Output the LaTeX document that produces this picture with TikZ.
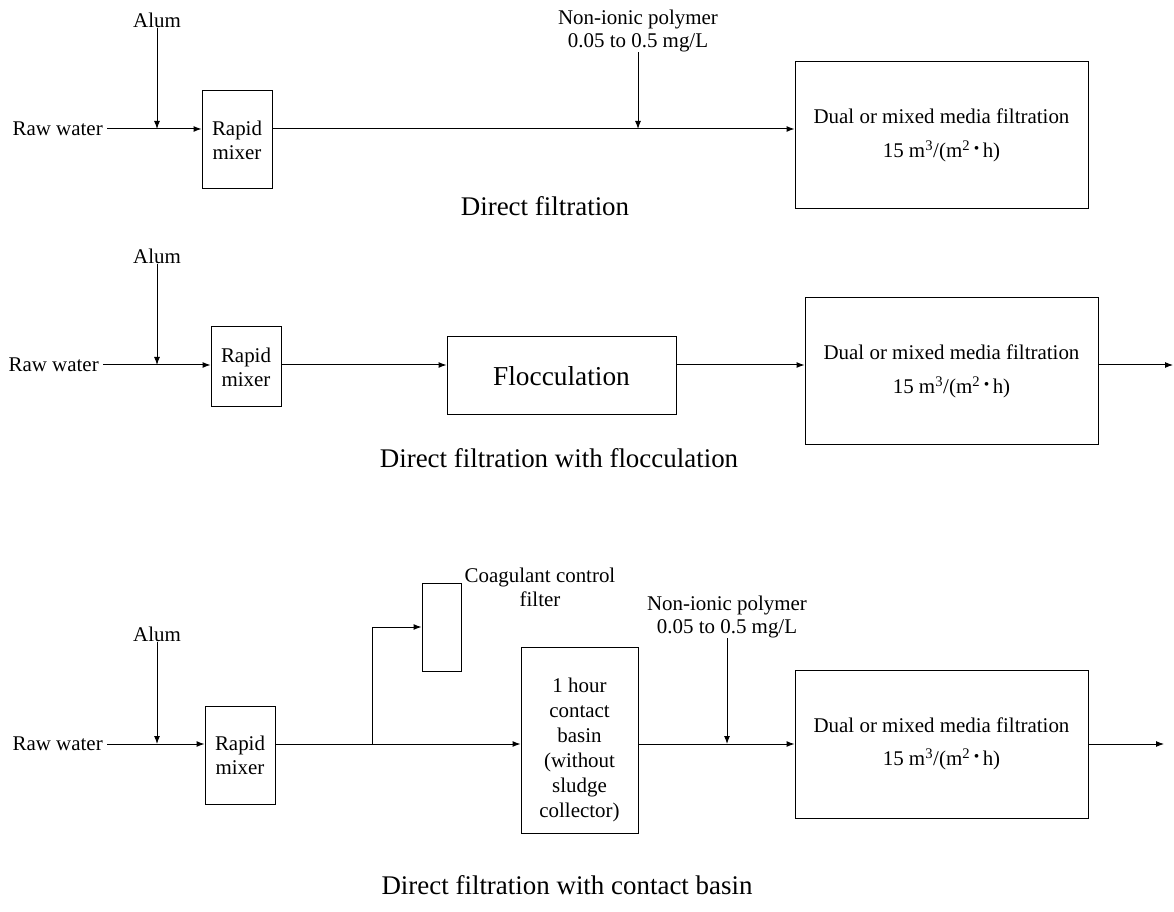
\documentclass[tikz,border=0pt]{standalone}
\usepackage{fontspec}
\setmainfont{Liberation Serif}
\usepackage{graphicx}
\usetikzlibrary{arrows.meta}
\newcommand{\mdot}{\,\raisebox{0.4ex}{\scalebox{0.75}{•}}\,}
\newcommand{\rate}{15 m\textsuperscript{3}/(m\textsuperscript{2}\mdot h)}
\begin{document}
\begin{tikzpicture}[x=0.75pt,y=-0.75pt,
  lbl/.style={font=\fontsize{15.7}{18}\selectfont, inner sep=0pt, align=center},
  rawlbl/.style={lbl, anchor=east, inner xsep=3pt},
  ttl/.style={font=\fontsize{20.2}{24}\selectfont, inner sep=0pt},
  box/.style={draw, line width=0.75pt, align=center, inner sep=0pt},
  rmbox/.style={box, font=\fontsize{15.7}{18}\selectfont, minimum width=52.5pt},
  dfbox/.style={box, font=\fontsize{15.7}{25}\selectfont, minimum width=219.75pt, minimum height=110.25pt},
  flow/.style={line width=0.75pt, -{Latex[length=6pt,width=4.5pt]}},
  line/.style={line width=0.75pt}]
\useasboundingbox (0,0) rectangle (1174,912);

% ---------- Panel 1 ----------
\node[lbl] (alum1) at (157,20) {Alum};
\node[rawlbl] (raw1) at (107,129) {Raw water};
\node[rmbox, minimum height=73.5pt] (rm1) at (237,140) {Rapid\\mixer};
\node[lbl, font=\fontsize{15.7}{17}\selectfont] (poly1) at (638,31) {Non-ionic polymer\\0.05 to 0.5 mg/L};
\node[dfbox] (df1) at (941.5,135.5) {Dual or mixed media filtration\\\rate};
\node[ttl] (t1) at (545,206) {Direct filtration};
\draw[flow] (raw1.east) -- (rm1.west |- raw1.east);
\draw[flow] (alum1.south) -- (alum1.south |- raw1.east);
\draw[flow] (rm1.east |- raw1.east) -- (df1.west |- raw1.east);
\draw[flow] (poly1.south) -- (poly1.south |- raw1.east);

% ---------- Panel 2 ----------
\node[lbl] (alum2) at (157,256) {Alum};
\node[rawlbl] (raw2) at (103,365) {Raw water};
\node[rmbox, minimum height=60pt] (rm2) at (246,367) {Rapid\\mixer};
\node[box, font=\fontsize{20.5}{24}\selectfont, minimum width=171.75pt, minimum height=58.5pt] (fl) at (561.5,376) {Flocculation};
\node[dfbox] (df2) at (951.5,371.5) {Dual or mixed media filtration\\\rate};
\coordinate (out2) at (1173,365);
\node[ttl] (t2) at (559,458) {Direct filtration with flocculation};
\draw[flow] (raw2.east) -- (rm2.west |- raw2.east);
\draw[flow] (alum2.south) -- (alum2.south |- raw2.east);
\draw[flow] (rm2.east |- raw2.east) -- (fl.west |- raw2.east);
\draw[flow] (fl.east |- raw2.east) -- (df2.west |- raw2.east);
\draw[flow] (df2.east |- raw2.east) -- (out2);

% ---------- Panel 3 ----------
\node[lbl] (alum3) at (157,634) {Alum};
\node[rawlbl] (raw3) at (107,744) {Raw water};
\node[rmbox, minimum height=73.5pt] (rm3) at (240,755) {Rapid\\mixer};
\node[box, minimum width=29.25pt, minimum height=66pt] (cf) at (441.5,627) {};
\node[lbl] (cflbl) at (540,587) {Coagulant control\\filter};
\node[box, minimum width=87.75pt, minimum height=139.5pt] (cb) at (579.5,740) {};
\node[lbl, font=\fontsize{15.7}{18.75}\selectfont] (cbtxt) at (579.5,750) {1 hour\\contact\\basin\\(without\\sludge\\collector)};
\node[lbl, font=\fontsize{15.7}{17}\selectfont] (poly3) at (727,617) {Non-ionic polymer\\0.05 to 0.5 mg/L};
\node[dfbox, minimum height=111pt] (df3) at (941.5,744) {Dual or mixed media filtration\\\rate};
\coordinate (br) at (372,744);
\coordinate (out3) at (1164,744);
\node[ttl] (t3) at (567,885) {Direct filtration with contact basin};
\draw[flow] (raw3.east) -- (rm3.west |- raw3.east);
\draw[flow] (alum3.south) -- (alum3.south |- raw3.east);
\draw[flow] (rm3.east |- raw3.east) -- (cb.west |- raw3.east);
\draw[flow] (br) |- (cf.west);
\draw[flow] (cb.east |- raw3.east) -- (df3.west |- raw3.east);
\draw[flow] (poly3.south) -- (poly3.south |- raw3.east);
\draw[flow] (df3.east |- raw3.east) -- (out3);
\end{tikzpicture}
\end{document}
